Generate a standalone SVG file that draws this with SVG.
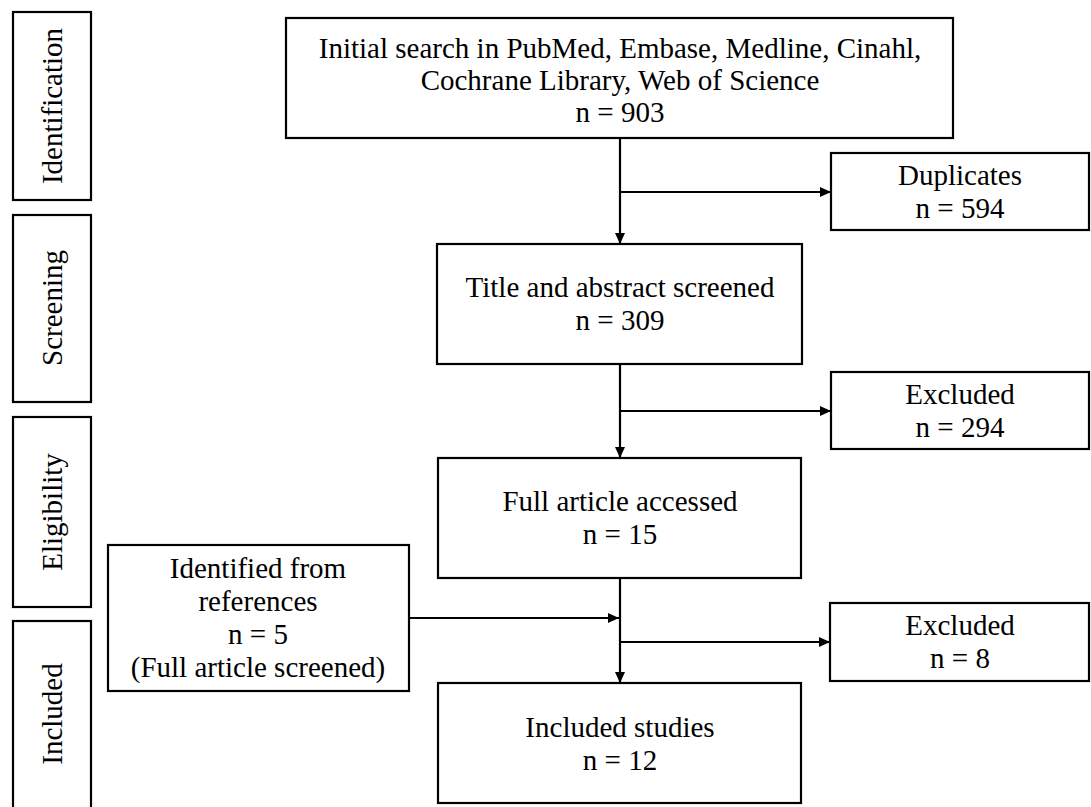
<svg xmlns="http://www.w3.org/2000/svg" width="1091" height="807" viewBox="0 0 1091 807">
<style>
rect{fill:#fff;stroke:#000;stroke-width:2.2}
text{font-family:"Liberation Serif","Times New Roman",serif;font-size:29px;fill:#000;text-anchor:middle}
.c line{stroke:#000;stroke-width:2.2}
</style>
<defs>
<marker id="ah" viewBox="0 0 10 10" refX="10" refY="5" markerWidth="11" markerHeight="10" markerUnits="userSpaceOnUse" orient="auto" preserveAspectRatio="none"><path d="M0,0 L10,5 L0,10 Z" fill="#000"/></marker>
</defs>
<rect width="1091" height="807" style="stroke:none"/>
<g id="stage-identification"><rect x="13" y="12" width="78" height="188"/><text transform="translate(62,106) rotate(-90)">Identification</text></g>
<g id="stage-screening"><rect x="13" y="215" width="78" height="187"/><text transform="translate(62,308) rotate(-90)">Screening</text></g>
<g id="stage-eligibility"><rect x="13" y="417" width="78" height="190"/><text transform="translate(62,512) rotate(-90)">Eligibility</text></g>
<g id="stage-included"><rect x="13" y="621" width="78" height="210"/><text transform="translate(62,714) rotate(-90)">Included</text></g>
<g class="c" id="connectors">
<line x1="620" y1="138" x2="620" y2="244" marker-end="url(#ah)"/>
<line x1="620" y1="192" x2="831" y2="192" marker-end="url(#ah)"/>
<line x1="620" y1="364" x2="620" y2="458" marker-end="url(#ah)"/>
<line x1="620" y1="411" x2="831" y2="411" marker-end="url(#ah)"/>
<line x1="620" y1="578" x2="620" y2="683" marker-end="url(#ah)"/>
<line x1="409" y1="618" x2="619" y2="618" marker-end="url(#ah)"/>
<line x1="620" y1="642" x2="830" y2="642" marker-end="url(#ah)"/>
</g>
<g id="search"><rect x="286" y="18" width="667" height="120"/><text x="620" y="58">Initial search in PubMed, Embase, Medline, Cinahl,</text><text x="620" y="90">Cochrane Library, Web of Science</text><text x="620" y="122">n = 903</text></g>
<g id="duplicates"><rect x="831" y="153" width="258" height="77"/><text x="960" y="185">Duplicates</text><text x="960" y="218">n = 594</text></g>
<g id="screened"><rect x="437" y="244" width="365" height="120"/><text x="620" y="297">Title and abstract screened</text><text x="620" y="330">n = 309</text></g>
<g id="excluded1"><rect x="831" y="372" width="258" height="77"/><text x="960" y="404">Excluded</text><text x="960" y="437">n = 294</text></g>
<g id="full"><rect x="438" y="458" width="363" height="120"/><text x="620" y="511">Full article accessed</text><text x="620" y="544">n = 15</text></g>
<g id="references"><rect x="108" y="545" width="301" height="146"/><text x="258" y="578">Identified from</text><text x="258" y="611">references</text><text x="258" y="644">n = 5</text><text x="258" y="677">(Full article screened)</text></g>
<g id="excluded2"><rect x="830" y="603" width="259" height="78"/><text x="960" y="635">Excluded</text><text x="960" y="668">n = 8</text></g>
<g id="included"><rect x="438" y="683" width="363" height="120"/><text x="620" y="737">Included studies</text><text x="620" y="770">n = 12</text></g>
</svg>
